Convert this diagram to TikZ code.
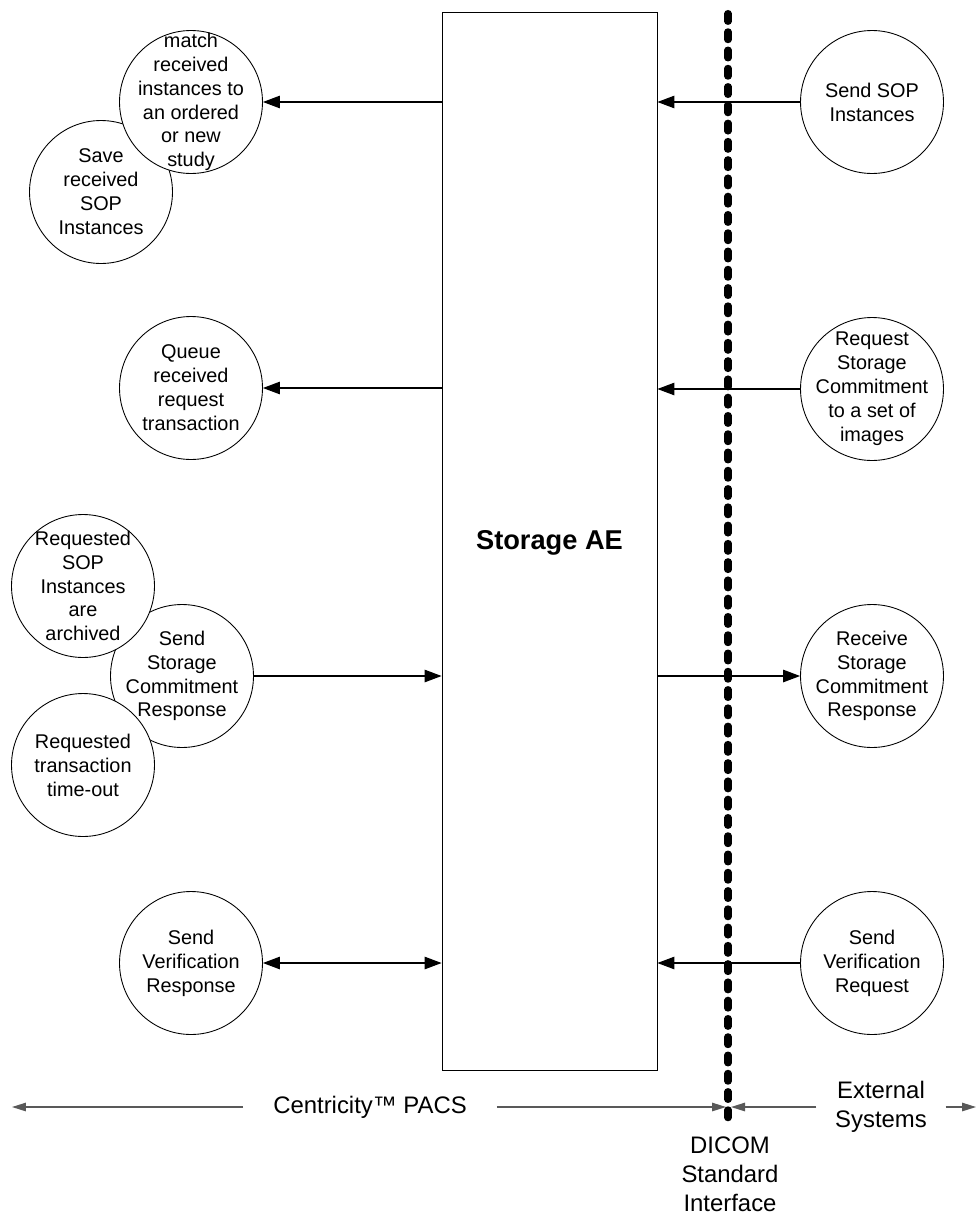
\documentclass[tikz,border=0pt]{standalone}
\usepackage{fontspec}
\setmainfont{Liberation Sans}
\usetikzlibrary{arrows.meta,positioning}

\begin{document}
\begin{tikzpicture}[x=0.02cm,y=-0.02cm,>={Triangle[length=0.34cm,width=0.25cm]},
  proc/.style={circle,draw,fill=white,line width=0.5pt,minimum size=2.86cm,inner sep=0pt},
  txt/.style={align=center,inner sep=0pt,font=\fontsize{11.3}{13.6}\selectfont},
  big/.style={align=center,font=\fontsize{13.6}{16.4}\selectfont},
  flow/.style={line width=0.65pt},
  scope line/.style={line width=0.75pt,black!65,>={Triangle[length=0.28cm,width=0.17cm]}}]
  \useasboundingbox (0,0) rectangle (978,1214);

  % the application entity
  \node[draw,line width=0.5pt,minimum width=4.3cm,minimum height=21.18cm,inner sep=0pt] (ae) at (549.5,541.5) {};
  \node[font=\fontsize{15.5}{18}\selectfont\bfseries] (ae_t) at (549.5,543) {Storage AE};

  % circles, the ones behind first
  \node[proc] (save)     at (101,192) {};
  \node[proc] (match)    at (191,102) {};
  \node[proc] (queue)    at (191,388) {};
  \node[proc] (commit)   at (182,676) {};
  \node[proc] (archived) at (83,586)  {};
  \node[proc] (timeout)  at (83,765)  {};
  \node[proc] (verify)   at (191,963) {};
  \node[proc] (sop_in)   at (872,102) {};
  \node[proc] (req_sc)   at (872,389) {};
  \node[proc] (rcv_sc)   at (872,676) {};
  \node[proc] (ver_req)  at (872,963) {};

  % texts on top of the circles
  \node[txt] (save_t)     at (save)     {Save\\received\\SOP\\Instances};
  \node[txt] (match_t)    at (match)    {match\\received\\instances to\\an ordered\\or new\\study};
  \node[txt] (queue_t)    at (queue)    {Queue\\received\\request\\transaction};
  \node[txt] (commit_t)   at (commit)   {Send\\Storage\\Commitment\\Response};
  \node[txt] (archived_t) at (archived) {Requested\\SOP\\Instances\\are\\archived};
  \node[txt] (timeout_t)  at (timeout)  {Requested\\transaction\\time-out};
  \node[txt] (verify_t)   at (verify)   {Send\\Verification\\Response};
  \node[txt] (sop_in_t)   at (sop_in)   {Send SOP\\Instances};
  \node[txt] (req_sc_t)   at (req_sc)   {Request\\Storage\\Commitment\\to a set of\\images};
  \node[txt] (rcv_sc_t)   at (rcv_sc)   {Receive\\Storage\\Commitment\\Response};
  \node[txt] (ver_req_t)  at (ver_req)  {Send\\Verification\\Request};

  \path[->,flow] (match -| ae.west) edge (match)
                 (queue -| ae.west) edge (queue)
                 (commit)           edge (commit -| ae.west)
                 (verify)           edge[<->] (verify -| ae.west)
                 (sop_in)           edge (sop_in -| ae.east)
                 (req_sc)           edge (req_sc -| ae.east)
                 (rcv_sc -| ae.east) edge (rcv_sc)
                 (ver_req)          edge (ver_req -| ae.east);

  % interface boundary
  \coordinate (d_top) at (728,13.5);
  \coordinate (d_bot) at (728,1118);
  \draw[line width=4pt,line cap=round,dash pattern=on 4.5pt off 5.9pt] (d_top) -- (d_bot);

  % system scopes
  \node[big,inner xsep=17pt] (pacs) at (370,1107) {Centricity™ PACS};
  \node[big,inner xsep=10.5pt] (ext) at (881,1107) {External\\Systems};
  \node[big] (dicom) at (730,1174) {DICOM\\Standard\\Interface};
  \coordinate (pacs_l) at (12,1107);
  \coordinate (pacs_r) at (726,1107);
  \coordinate (ext_l)  at (731,1107);
  \coordinate (ext_r)  at (976,1107);
  \path[->,scope line] (pacs.west) edge (pacs_l)
                       (pacs.east) edge (pacs_r)
                       (ext.west)  edge (ext_l)
                       (ext.east)  edge (ext_r);
\end{tikzpicture}
\end{document}
